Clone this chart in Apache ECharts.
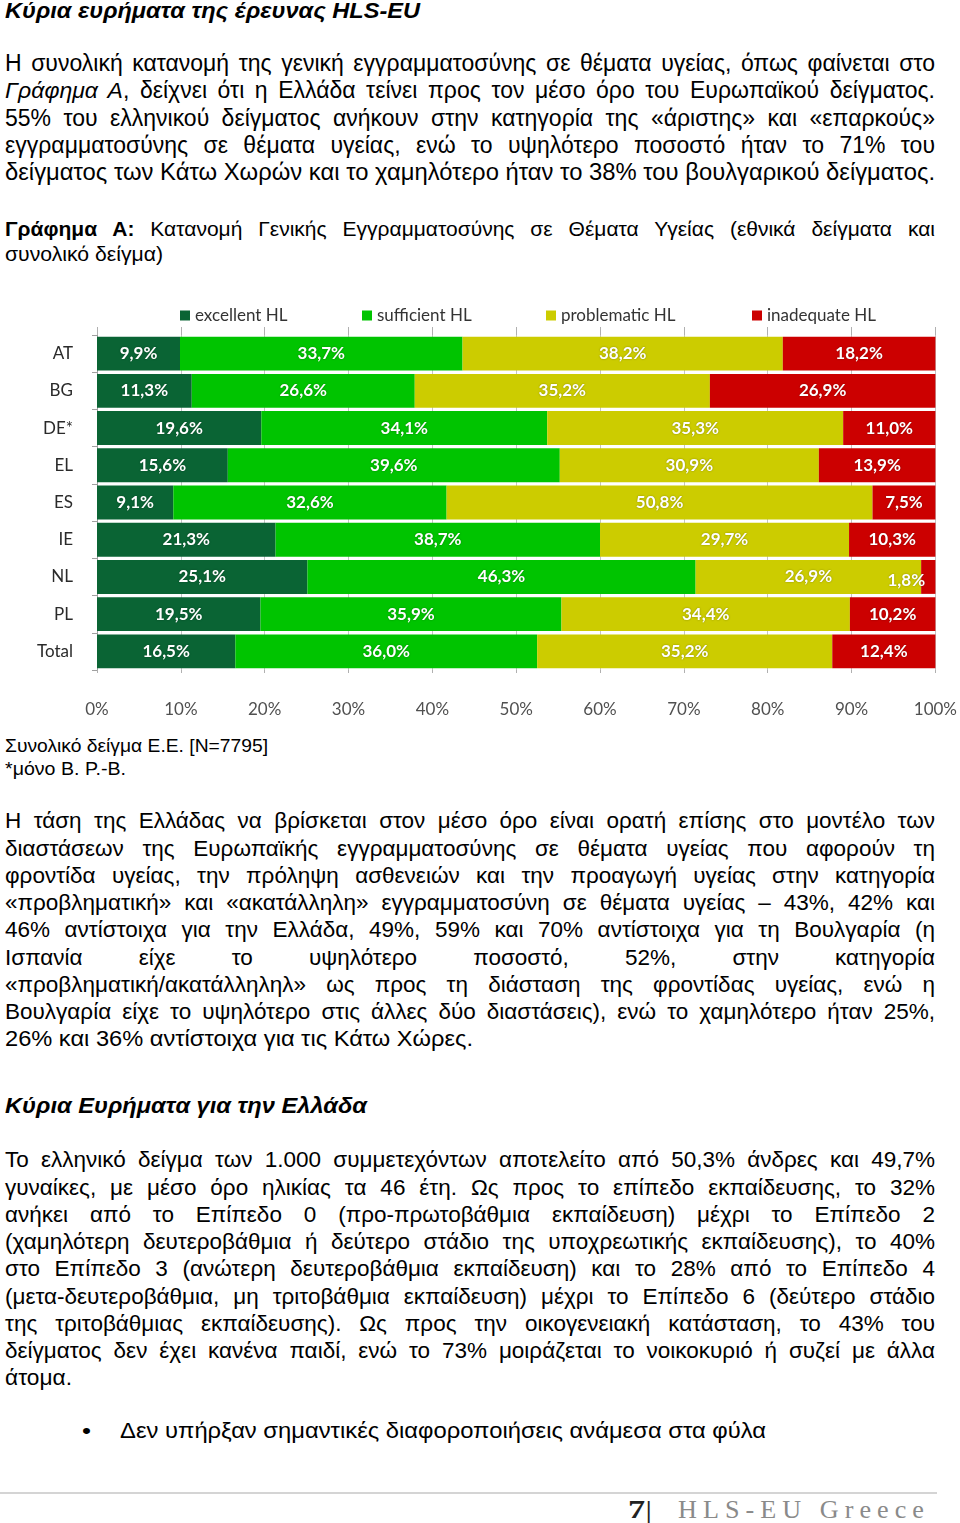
<!DOCTYPE html>
<html>
<head>
<meta charset="utf-8">
<script src="https://cdn.jsdelivr.net/npm/echarts@6/dist/echarts.min.js"></script>
<style>
  html, body { margin:0; padding:0; background:#fff; }
  #page { position:relative; width:960px; height:1523px; overflow:hidden; background:#fff; }
  .ln { position:absolute; white-space:nowrap; color:#000; font-family:"Liberation Sans", Arial, sans-serif; transform-origin:0 50%; }
  #chart { position:absolute; left:30px; top:298px; width:930px; height:420px; }
  #rule { position:absolute; left:0; top:1492px; width:937px; height:2px; background:#d4d4d4; }
</style>
</head>
<body>
<div id="page">
  <div id="chart"></div>
  <div id="rule"></div>
</div>
<script>
// ---------- chart data ----------
const categories  = ['AT', 'BG', 'DE*', 'EL', 'ES', 'IE', 'NL', 'PL', 'Total'];
const excellent   = [9.9, 11.3, 19.6, 15.6, 9.1, 21.3, 25.1, 19.5, 16.5];
const sufficient  = [33.7, 26.6, 34.1, 39.6, 32.6, 38.7, 46.3, 35.9, 36.0];
const problematic = [38.2, 35.2, 35.3, 30.9, 50.8, 29.7, 26.9, 34.4, 35.2];
const inadequate  = [18.2, 26.9, 11.0, 13.9, 7.5, 10.3, 1.8, 10.2, 12.4];
const seriesNames = ['excellent HL', 'sufficient HL', 'problematic HL', 'inadequate HL'];
const xTickLabels = ['0%', '10%', '20%', '30%', '40%', '50%', '60%', '70%', '80%', '90%', '100%'];

// ---------- page text ----------
const P1 = [
  'Η συνολική κατανομή της γενική εγγραμματοσύνης σε θέματα υγείας, όπως φαίνεται στο',
  '<i>Γράφημα Α</i>, δείχνει ότι η Ελλάδα τείνει προς τον μέσο όρο του Ευρωπαϊκού δείγματος.',
  '55% του ελληνικού δείγματος ανήκουν στην κατηγορία της «άριστης» και «επαρκούς»',
  'εγγραμματοσύνης σε θέματα υγείας, ενώ το υψηλότερο ποσοστό ήταν το 71% του',
  'δείγματος των Κάτω Χωρών και το χαμηλότερο ήταν το 38% του βουλγαρικού δείγματος.'
];
const P2 = [
  'Η τάση της Ελλάδας να βρίσκεται στον μέσο όρο είναι ορατή επίσης στο μοντέλο των',
  'διαστάσεων της Ευρωπαϊκής εγγραμματοσύνης σε θέματα υγείας που αφορούν τη',
  'φροντίδα υγείας, την πρόληψη ασθενειών και την προαγωγή υγείας στην κατηγορία',
  '«προβληματική» και «ακατάλληλη» εγγραμματοσύνη σε θέματα υγείας – 43%, 42% και',
  '46% αντίστοιχα για την Ελλάδα, 49%, 59% και 70% αντίστοιχα για τη Βουλγαρία (η',
  'Ισπανία είχε το υψηλότερο ποσοστό, 52%, στην κατηγορία',
  '«προβληματική/ακατάλληληλ» ως προς τη διάσταση της φροντίδας υγείας, ενώ η',
  'Βουλγαρία είχε το υψηλότερο στις άλλες δύο διαστάσεις), ενώ το χαμηλότερο ήταν 25%,',
  '26% και 36% αντίστοιχα για τις Κάτω Χώρες.'
];
const P3 = [
  'Το ελληνικό δείγμα των 1.000 συμμετεχόντων αποτελείτο από 50,3% άνδρες και 49,7%',
  'γυναίκες, με μέσο όρο ηλικίας τα 46 έτη. Ως προς το επίπεδο εκπαίδευσης, το 32%',
  'ανήκει από το Επίπεδο 0 (προ-πρωτοβάθμια εκπαίδευση) μέχρι το Επίπεδο 2',
  '(χαμηλότερη δευτεροβάθμια ή δεύτερο στάδιο της υποχρεωτικής εκπαίδευσης), το 40%',
  'στο Επίπεδο 3 (ανώτερη δευτεροβάθμια εκπαίδευση) και το 28% από το Επίπεδο 4',
  '(μετα-δευτεροβάθμια, μη τριτοβάθμια εκπαίδευση) μέχρι το Επίπεδο 6 (δεύτερο στάδιο',
  'της τριτοβάθμιας εκπαίδευσης). Ως προς την οικογενειακή κατάσταση, το 43% του',
  'δείγματος δεν έχει κανένα παιδί, ενώ το 73% μοιράζεται το νοικοκυριό ή συζεί με άλλα',
  'άτομα.'
];

const page = document.getElementById('page');
const placed = [];
function addLine(html, y, x0, x1, size, opts) {
  opts = opts || {};
  const d = document.createElement('div');
  d.className = 'ln';
  d.style.left = x0 + 'px';
  d.style.fontSize = size + 'px';
  const lh = Math.round(size * 1.2);
  d.style.lineHeight = lh + 'px';
  d.style.top = (y - lh / 2) + 'px';
  if (opts.bold) d.style.fontWeight = 'bold';
  if (opts.italic) d.style.fontStyle = 'italic';
  if (opts.family) d.style.fontFamily = opts.family;
  if (opts.color) d.style.color = opts.color;
  if (opts.ls) d.style.letterSpacing = opts.ls + 'px';
  d.innerHTML = '<span>' + html + '</span>';
  page.appendChild(d);
  placed.push({ d: d, T: x1 - x0, justify: !!opts.justify });
}
function fitAll() {
  placed.forEach(function (p) {
    p.d.style.transform = '';
    p.d.style.wordSpacing = '';
    const w = p.d.firstChild.getBoundingClientRect().width;
    if (!w) return;
    if (p.justify && w < p.T) {
      const n = (p.d.textContent.match(/ /g) || []).length;
      if (n) p.d.style.wordSpacing = ((p.T - w) / n) + 'px';
    } else {
      p.d.style.transform = 'scaleX(' + (p.T / w) + ')';
    }
  });
}

addLine('Κύρια ευρήματα της έρευνας HLS-EU', 11, 5, 420, 22, { bold: true, italic: true });
const p1y = [63, 90, 118, 145, 172];
P1.forEach(function (t, i) { addLine(t, p1y[i], 5, 935, 23, { justify: i < P1.length - 1 }); });
addLine('<b>Γράφημα Α:</b> Κατανομή Γενικής Εγγραμματοσύνης σε Θέματα Υγείας (εθνικά δείγματα και', 228, 5, 935, 21, { justify: true });
addLine('συνολικό δείγμα)', 253, 5, 163, 21);
addLine('Συνολικό δείγμα Ε.Ε. [N=7795]', 745, 5, 268, 19);
addLine('*μόνο Β. Ρ.-Β.', 768, 5, 126, 19);
const p2y = [820, 848, 875, 902, 929, 957, 984, 1011, 1038];
P2.forEach(function (t, i) {
  if (i === P2.length - 1) addLine(t, p2y[i], 5, 473, 22.5);
  else addLine(t, p2y[i], 5, 935, 22.5, { justify: true });
});
addLine('Κύρια Ευρήματα για την Ελλάδα', 1106, 5, 367, 22, { bold: true, italic: true });
const p3y = [1159, 1187, 1214, 1241, 1268, 1296, 1323, 1350, 1377];
P3.forEach(function (t, i) {
  if (i === P3.length - 1) addLine(t, p3y[i], 5, 72, 22.5);
  else addLine(t, p3y[i], 5, 935, 22.5, { justify: true });
});
addLine('•', 1431, 82, 91, 22);
addLine('Δεν υπήρξαν σημαντικές διαφοροποιήσεις ανάμεσα στα φύλα', 1431, 120, 766, 22);
addLine('<b>7</b>|', 1509, 628, 652, 26, { family: '"Liberation Serif", "DejaVu Serif", serif', color: '#222' });
addLine('HLS-EU Greece', 1509, 678, 930, 26, { family: '"Liberation Serif", "DejaVu Serif", serif', color: '#8a8a8a', ls: 6 });
fitAll();
if (document.fonts && document.fonts.ready) document.fonts.ready.then(fitAll);

// ---------- chart ----------
const colors = ['#0a6434', '#00c400', '#cccc00', '#cc0000'];
const values = [excellent, sufficient, problematic, inadequate];
const fmt = function (p) { return p.value.toFixed(1).replace('.', ',') + '%'; };
const chart = echarts.init(document.getElementById('chart'), null, { renderer: 'canvas' });
const legendLeft = [145, 327, 511, 717];
chart.setOption({
  animation: false,
  textStyle: { fontFamily: 'Lato, "Noto Sans", sans-serif' },
  legend: seriesNames.map(function (n, i) {
    return {
      data: [n], left: legendLeft[i], top: 4, icon: 'rect', itemWidth: 10, itemHeight: 10,
      textStyle: { fontSize: 17, color: '#333', fontFamily: 'Lato, "Noto Sans", sans-serif' },
      selectedMode: false
    };
  }),
  grid: { left: 67, right: 22.5, top: 37, bottom: 46, containLabel: false },
  xAxis: [
    {
      type: 'value', min: 0, max: 100, interval: 10, position: 'bottom',
      axisLine: { show: false },
      axisTick: { show: true, length: 3, lineStyle: { color: '#b0b0b0' } },
      splitLine: { show: true, lineStyle: { color: '#c4c4c4', width: 1 } },
      axisLabel: {
        margin: 31, fontSize: 17, color: '#505050',
        formatter: function (v) { return xTickLabels[Math.round(v / 10)]; }
      }
    },
    {
      type: 'value', min: 0, max: 100, interval: 10, position: 'top',
      axisLine: { show: false },
      axisTick: { show: true, length: 8, lineStyle: { color: '#b0b0b0' } },
      splitLine: { show: false },
      axisLabel: { show: false }
    }
  ],
  yAxis: {
    type: 'category', data: categories, inverse: true,
    axisLine: { show: true, lineStyle: { color: '#a0a0a0' } },
    axisTick: { show: true, length: 5, lineStyle: { color: '#a0a0a0' } },
    axisLabel: { margin: 24, fontSize: 17, color: '#2a2a2a' }
  },
  series: values.map(function (arr, i) {
    return {
      name: seriesNames[i], type: 'bar', stack: 'hl', xAxisIndex: 0,
      barCategoryGap: '9%',
      itemStyle: { color: colors[i] },
      label: {
        show: true, position: 'inside', color: '#fff', fontSize: 17, fontWeight: 'bold',
        fontFamily: 'Lato, "Noto Sans", sans-serif',
        textShadowColor: 'rgba(0,0,0,0.35)', textShadowBlur: 2,
        formatter: fmt
      },
      data: arr.map(function (v, j) {
        if (i === 3 && v < 3) {
          return { value: v, label: { position: 'left', distance: -4, offset: [0, 4] } };
        }
        return v;
      })
    };
  })
});
</script>
</body>
</html>
